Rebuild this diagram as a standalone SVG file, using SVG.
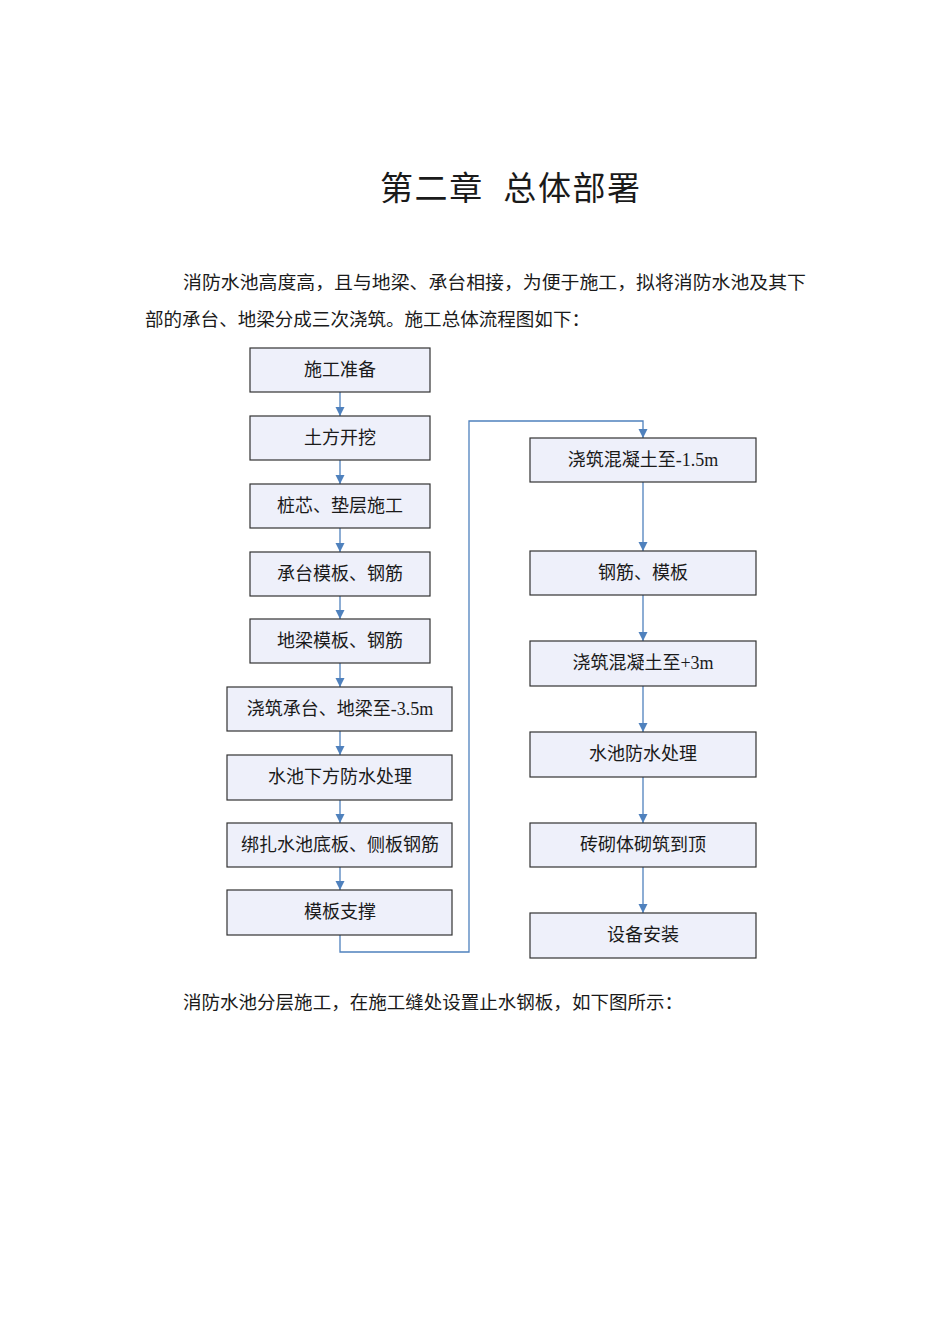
<svg xmlns="http://www.w3.org/2000/svg" width="950" height="1344" viewBox="0 0 950 1344">
<defs>
<style>
text{font-family:"Liberation Serif","Noto Sans CJK SC",serif;fill:#1a1a1a}
.box rect{fill:#EEF0FA;stroke:#333;stroke-width:1.2}
.box text{font-size:18px;text-anchor:middle}
.c{fill:none;stroke:#4F81BD;stroke-width:1.3}
.p{font-size:18px}
</style>
<marker id="a" markerWidth="10" markerHeight="10" refX="9" refY="5" orient="auto" markerUnits="userSpaceOnUse"><path d="M0,0.5 L9,5 L0,9.5z" fill="#4F81BD"/></marker>
</defs>
<rect width="950" height="1344" fill="#fff"/>
<text x="380" y="200" font-size="33" xml:space="preserve" textLength="260" lengthAdjust="spacing">第二章  总体部署</text>
<text class="p" x="183" y="289" textLength="623" lengthAdjust="spacingAndGlyphs">消防水池高度高，且与地梁、承台相接，为便于施工，拟将消防水池及其下</text>
<text class="p" x="145" y="326" textLength="445" lengthAdjust="spacingAndGlyphs">部的承台、地梁分成三次浇筑。施工总体流程图如下：</text>
<text class="p" x="183" y="1009" textLength="500" lengthAdjust="spacingAndGlyphs">消防水池分层施工，在施工缝处设置止水钢板，如下图所示：</text>
<g id="connectors">
<line class="c" x1="340" y1="392" x2="340" y2="416" marker-end="url(#a)"/>
<line class="c" x1="340" y1="460" x2="340" y2="484" marker-end="url(#a)"/>
<line class="c" x1="340" y1="528" x2="340" y2="552" marker-end="url(#a)"/>
<line class="c" x1="340" y1="596" x2="340" y2="619" marker-end="url(#a)"/>
<line class="c" x1="340" y1="663" x2="340" y2="687" marker-end="url(#a)"/>
<line class="c" x1="340" y1="731" x2="340" y2="755" marker-end="url(#a)"/>
<line class="c" x1="340" y1="800" x2="340" y2="823" marker-end="url(#a)"/>
<line class="c" x1="340" y1="867" x2="340" y2="890" marker-end="url(#a)"/>
<polyline class="c" points="340,935 340,952 469,952 469,421 643,421 643,438" marker-end="url(#a)"/>
<line class="c" x1="643" y1="482" x2="643" y2="551" marker-end="url(#a)"/>
<line class="c" x1="643" y1="595" x2="643" y2="641" marker-end="url(#a)"/>
<line class="c" x1="643" y1="686" x2="643" y2="732" marker-end="url(#a)"/>
<line class="c" x1="643" y1="777" x2="643" y2="823" marker-end="url(#a)"/>
<line class="c" x1="643" y1="867" x2="643" y2="913" marker-end="url(#a)"/>
</g>
<g id="n1" class="box"><rect x="250" y="348" width="180" height="44"/><text x="340" y="376">施工准备</text></g>
<g id="n2" class="box"><rect x="250" y="416" width="180" height="44"/><text x="340" y="444">土方开挖</text></g>
<g id="n3" class="box"><rect x="250" y="484" width="180" height="44"/><text x="340" y="512">桩芯、垫层施工</text></g>
<g id="n4" class="box"><rect x="250" y="552" width="180" height="44"/><text x="340" y="580">承台模板、钢筋</text></g>
<g id="n5" class="box"><rect x="250" y="619" width="180" height="44"/><text x="340" y="647">地梁模板、钢筋</text></g>
<g id="n6" class="box"><rect x="227" y="687" width="225" height="44"/><text x="340" y="715">浇筑承台、地梁至-3.5m</text></g>
<g id="n7" class="box"><rect x="227" y="755" width="225" height="45"/><text x="340" y="783">水池下方防水处理</text></g>
<g id="n8" class="box"><rect x="227" y="823" width="225" height="44"/><text x="340" y="851">绑扎水池底板、侧板钢筋</text></g>
<g id="n9" class="box"><rect x="227" y="890" width="225" height="45"/><text x="340" y="918">模板支撑</text></g>
<g id="n10" class="box"><rect x="530" y="438" width="226" height="44"/><text x="643" y="466">浇筑混凝土至-1.5m</text></g>
<g id="n11" class="box"><rect x="530" y="551" width="226" height="44"/><text x="643" y="579">钢筋、模板</text></g>
<g id="n12" class="box"><rect x="530" y="641" width="226" height="45"/><text x="643" y="669">浇筑混凝土至+3m</text></g>
<g id="n13" class="box"><rect x="530" y="732" width="226" height="45"/><text x="643" y="760">水池防水处理</text></g>
<g id="n14" class="box"><rect x="530" y="823" width="226" height="44"/><text x="643" y="851">砖砌体砌筑到顶</text></g>
<g id="n15" class="box"><rect x="530" y="913" width="226" height="45"/><text x="643" y="941">设备安装</text></g>
</svg>
